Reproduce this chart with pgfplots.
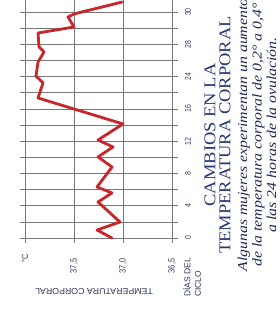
\documentclass[border=0pt]{standalone}
\usepackage{fontspec}
\setmainfont{Liberation Sans}
\newfontfamily\narrowsans[FakeStretch=0.82]{Liberation Sans}
\newfontfamily\titleserif[FakeStretch=1.12]{Liberation Serif}
\newfontfamily\itserif[FakeStretch=1.17]{Liberation Serif}
\usepackage{pgfplots}
\pgfplotsset{compat=1.18}
\definecolor{redline}{RGB}{200,38,42}
\definecolor{labcol}{RGB}{50,57,90}
\definecolor{titlecol}{RGB}{40,55,115}
\definecolor{itcol}{RGB}{30,40,85}
\definecolor{gridcol}{RGB}{120,120,120}
\pgfplotstableread{
temp day
37.112 0
37.265 0.99
37.031 1.98
37.255 4.46
37.112 5.58
37.265 6.32
37.112 8.80
37.255 10.04
37.102 11.28
37.255 12.14
37.000 14.13
37.867 17.35
37.816 19.21
37.888 20.07
37.867 21.80
37.806 23.05
37.857 23.67
37.867 25.40
37.500 26.15
37.561 27.39
37.500 27.76
37.010 29.24
}\tempdata
\begin{document}
\begin{tikzpicture}
\useasboundingbox (0,0) rectangle (280pt,322pt);
\begin{axis}[
  at={(20pt,79pt)}, anchor=south west,
  scale only axis, width=158pt, height=243pt,
  x dir=reverse,
  xmin=36.439, xmax=38.051,
  ymin=-0.62, ymax=29.49,
  axis line style={draw=none},
  /pgf/number format/assume math mode=true,
  xtick={36.5,37,37.5,38},
  xticklabels={{36,5},{37,0},{37,5},{\hspace{16pt}°C}},
  ytick={0,2,...,28},
  yticklabels={0,,4,,8,,12,,16,,24,,28,,30},
  yticklabel pos=right,
  major tick length=0pt,
  grid=major,
  grid style={gridcol, line width=0.7pt},
  xticklabel style={yshift=-23pt, rotate=90, anchor=center, font=\narrowsans\fontsize{9}{9}\selectfont, text=labcol},
  yticklabel style={xshift=10pt, rotate=90, anchor=center, font=\narrowsans\fontsize{8.5}{8.5}\selectfont, text=labcol},
]
\addplot[redline, line width=2.8pt, line join=round, line cap=round] table[x=temp, y=day] {\tempdata};
\end{axis}
\node[rotate=180, font=\fontsize{8.8}{8.8}\selectfont, text=labcol] at (94pt,30pt) {TEMPERATURA CORPORAL};
\node[rotate=90, align=left, anchor=west, inner sep=0pt, font=\fontsize{8.5}{10.5}\selectfont, text=labcol] at (192pt,25pt) {DÍAS DEL\\CICLO};
\node[rotate=90, align=center, font=\titleserif\fontsize{16.5}{15}\selectfont, text=titlecol] at (217.5pt,187pt) {CAMBIOS EN LA\\TEMPERATURA CORPORAL};
\node[rotate=90, align=center, inner sep=0pt, font=\itserif\itshape\fontsize{13.5}{14.5}\selectfont, text=itcol] at (257pt,187pt) {Algunas mujeres experimentan un aumento\\de la temperatura corporal de 0,2° a 0,4°\\a las 24 horas de la ovulación.};
\end{tikzpicture}
\end{document}
